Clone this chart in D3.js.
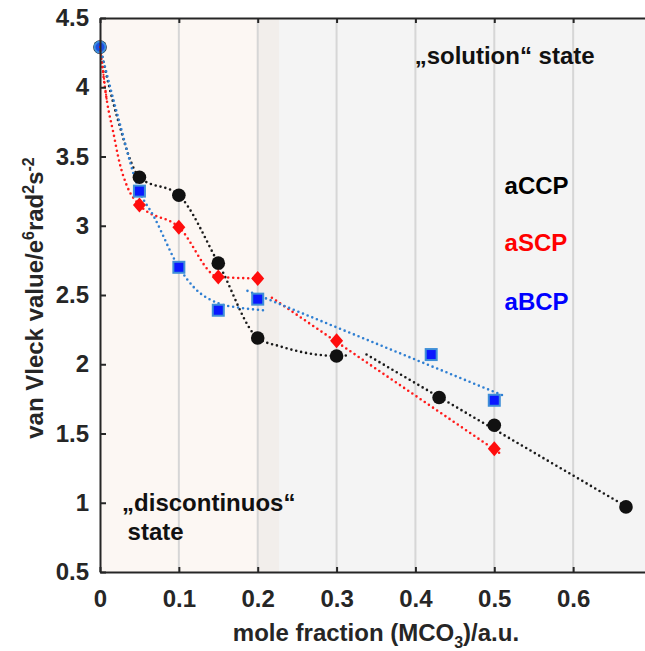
<!DOCTYPE html>
<html>
<head>
<meta charset="utf-8">
<script src="https://cdn.jsdelivr.net/npm/d3@7"></script>
<style>
  body { margin: 0; background: #fff; }
  svg text { font-family: "Liberation Sans", Arial, sans-serif; font-weight: bold; }
</style>
</head>
<body>
<svg id="chart" width="645" height="651"></svg>
<script>
// measured points
var xCCP = [0, 0.05, 0.1, 0.15, 0.2, 0.3, 0.43, 0.5, 0.667];
var yCCP = [4.29, 3.35, 3.22, 2.73, 2.19, 2.06, 1.76, 1.56, 0.97];
var xSCP = [0, 0.05, 0.1, 0.15, 0.2, 0.3, 0.5];
var ySCP = [4.29, 3.15, 2.99, 2.63, 2.62, 2.17, 1.39];
var xBCP = [0, 0.05, 0.1, 0.15, 0.2, 0.42, 0.5];
var yBCP = [4.29, 3.25, 2.70, 2.39, 2.47, 2.07, 1.74];

// dotted guide curves
var fitCCP1 = [[0, 4.29], [0.021, 3.80], [0.05, 3.35], [0.1, 3.22], [0.15, 2.73], [0.2, 2.19], [0.228, 2.13], [0.275, 2.07], [0.3, 2.06], [0.315, 2.065]];
var fitCCP2 = [[0.338, 2.07], [0.677, 0.94]];
var fitSCP1 = [[0, 4.29], [0.0085, 3.91], [0.017, 3.67], [0.025, 3.45], [0.034, 3.29], [0.05, 3.15], [0.1, 2.99], [0.15, 2.63], [0.2, 2.62]];
var fitSCP2 = [[0.218, 2.48], [0.509, 1.35]];
var fitBCP1 = [[0, 4.29], [0.025, 3.74], [0.05, 3.25], [0.068, 3.07], [0.1, 2.70], [0.12, 2.55], [0.15, 2.44], [0.175, 2.41], [0.207, 2.39]];
var fitBCP2 = [[0.187, 2.53], [0.513, 1.77]];

var xTicks = [0, 0.1, 0.2, 0.3, 0.4, 0.5, 0.6];
var yTicks = [0.5, 1, 1.5, 2, 2.5, 3, 3.5, 4, 4.5];
var regionBreaks = [0, 0.2, 0.227, 0.7];
var regionColors = ["#fcf7f3", "#f2eeeb", "#f4f4f4"];

var svg = d3.select("#chart");
var plotLeft = 100, plotTop = 18, plotBottom = 572, plotRight = 652;

var x = d3.scaleLinear().domain([0, 0.7]).range([plotLeft, plotRight]);
var y = d3.scaleLinear().domain([0.5, 4.5]).range([plotBottom, plotTop]);

// shaded states
svg.selectAll("rect.region")
  .data(regionColors)
  .enter().append("rect")
  .attr("class", "region")
  .attr("x", function(d, i) { return x(regionBreaks[i]); })
  .attr("width", function(d, i) { return x(regionBreaks[i + 1]) - x(regionBreaks[i]); })
  .attr("y", plotTop)
  .attr("height", plotBottom - plotTop)
  .attr("fill", function(d) { return d; });

// vertical grid
svg.selectAll("line.grid")
  .data(xTicks.slice(1))
  .enter().append("line")
  .attr("class", "grid")
  .attr("x1", function(d) { return x(d); })
  .attr("x2", function(d) { return x(d); })
  .attr("y1", plotTop)
  .attr("y2", plotBottom)
  .attr("stroke", "#d6d6d6")
  .attr("stroke-width", 2);

// fit curves
var line = d3.line()
  .x(function(d) { return x(d[0]); })
  .y(function(d) { return y(d[1]); })
  .curve(d3.curveMonotoneX);

var fits = [
  {pts: fitCCP1, col: "#1a1a1a"}, {pts: fitCCP2, col: "#1a1a1a"},
  {pts: fitSCP1, col: "#ff1a1a"}, {pts: fitSCP2, col: "#ff1a1a"},
  {pts: fitBCP1, col: "#2f7fd2"}, {pts: fitBCP2, col: "#2f7fd2"}
];

svg.selectAll("path.fit")
  .data(fits)
  .enter().append("path")
  .attr("class", "fit")
  .attr("d", function(d) { return line(d.pts); })
  .attr("fill", "none")
  .attr("stroke", function(d) { return d.col; })
  .attr("stroke-width", 2.6)
  .attr("stroke-linecap", "round")
  .attr("stroke-dasharray", "0 5");

// markers
svg.selectAll("circle.ccp")
  .data(xCCP)
  .enter().append("circle")
  .attr("class", "ccp")
  .attr("cx", function(d) { return x(d); })
  .attr("cy", function(d, i) { return y(yCCP[i]); })
  .attr("r", 6.8)
  .attr("fill", "#111");

svg.selectAll("path.scp")
  .data(xSCP)
  .enter().append("path")
  .attr("class", "scp")
  .attr("transform", function(d, i) { return "translate(" + x(d) + "," + y(ySCP[i]) + ")"; })
  .attr("d", "M0,-7.5L6.5,0L0,7.5L-6.5,0Z")
  .attr("fill", "#ff0d0d");

svg.selectAll("rect.bcp")
  .data(xBCP.slice(1))
  .enter().append("rect")
  .attr("class", "bcp")
  .attr("x", function(d) { return x(d) - 5.5; })
  .attr("y", function(d, i) { return y(yBCP[i + 1]) - 5.5; })
  .attr("width", 11)
  .attr("height", 11)
  .attr("fill", "#0a18ff")
  .attr("stroke", "#3f8fd8")
  .attr("stroke-width", 2);

// shared starting point
svg.append("circle")
  .attr("cx", x(xBCP[0]))
  .attr("cy", y(yBCP[0]))
  .attr("r", 5.5)
  .attr("fill", "#1d4fe6")
  .attr("stroke", "#3f8fd8")
  .attr("stroke-width", 2);
svg.append("path")
  .attr("d", line(fitSCP1.slice(0, 2)))
  .attr("fill", "none")
  .attr("stroke", "#ff1a1a")
  .attr("stroke-width", 2.2)
  .attr("stroke-linecap", "round")
  .attr("stroke-dasharray", "0 4");

// axes
function styleAxis(g) {
  g.attr("font-family", null).attr("font-size", null);
  g.select(".domain").attr("stroke", "#262626").attr("stroke-width", 2);
  g.selectAll(".tick line").attr("stroke", "#262626").attr("stroke-width", 2);
  g.selectAll(".tick text").attr("fill", "#262626").style("font-size", "24px");
}

svg.append("g")
  .attr("transform", "translate(0," + plotBottom + ")")
  .call(d3.axisBottom(x).tickValues(xTicks).tickSizeInner(-5).tickSizeOuter(0).tickPadding(18).tickFormat(d3.format("")))
  .call(styleAxis);

svg.append("g")
  .attr("transform", "translate(0," + plotTop + ")")
  .call(d3.axisTop(x).tickValues(xTicks).tickSizeInner(-5).tickSizeOuter(0).tickFormat(""))
  .call(styleAxis);

svg.append("g")
  .attr("transform", "translate(" + plotLeft + ",0)")
  .call(d3.axisLeft(y).tickValues(yTicks).tickSizeInner(-6).tickSizeOuter(0).tickPadding(11).tickFormat(d3.format("")))
  .call(styleAxis);

// axis titles
var xl = svg.append("text")
  .attr("x", 376).attr("y", 641)
  .attr("text-anchor", "middle")
  .attr("fill", "#262626")
  .style("font-size", "24px");
xl.append("tspan").text("mole fraction (MCO");
xl.append("tspan").attr("dy", 7).style("font-size", "16px").text("3");
xl.append("tspan").attr("dy", -7).text(")/a.u.");

var yl = svg.append("text")
  .attr("transform", "translate(43,298) rotate(-90)")
  .attr("text-anchor", "middle")
  .attr("fill", "#262626")
  .style("font-size", "24px");
yl.append("tspan").text("van Vleck value/e");
yl.append("tspan").attr("dy", -9).style("font-size", "16px").text("6");
yl.append("tspan").attr("dy", 9).text("rad");
yl.append("tspan").attr("dy", -9).style("font-size", "16px").text("2");
yl.append("tspan").attr("dy", 9).text("s");
yl.append("tspan").attr("dy", -9).style("font-size", "16px").text("-2");

// annotations
var notes = [
  {t: "\u201Esolution\u201C state", vx: 0.399, vy: 4.165, c: "#111"},
  {t: "aCCP", vx: 0.513, vy: 3.23, c: "#000"},
  {t: "aSCP", vx: 0.513, vy: 2.815, c: "#ff0000"},
  {t: "aBCP", vx: 0.513, vy: 2.39, c: "#0000ff"},
  {t: "\u201Ediscontinuos\u201C", vx: 0.028, vy: 0.94, c: "#111"},
  {t: "state", vx: 0.035, vy: 0.73, c: "#111"}
];

svg.selectAll("text.note")
  .data(notes)
  .enter().append("text")
  .attr("class", "note")
  .attr("x", function(d) { return x(d.vx); })
  .attr("y", function(d) { return y(d.vy); })
  .attr("fill", function(d) { return d.c; })
  .style("font-size", "24px")
  .text(function(d) { return d.t; });
</script>
</body>
</html>
